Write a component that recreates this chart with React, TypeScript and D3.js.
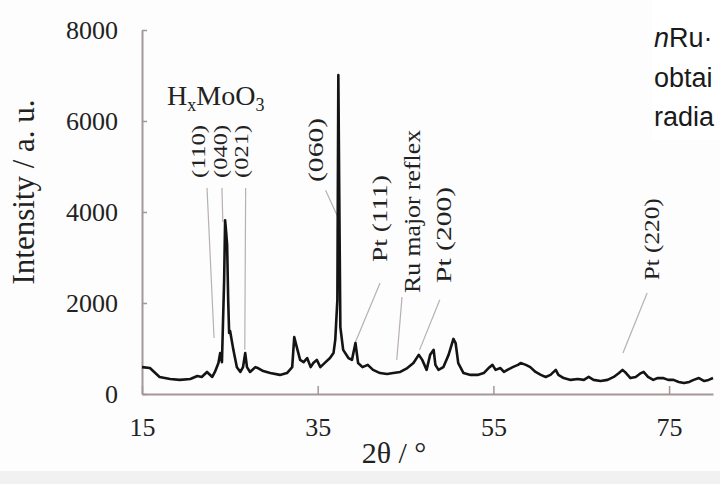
import React, { useRef, useEffect } from "react";
import * as d3 from "d3";

// XRD pattern
const twoTheta = [
  15.0, 15.9, 17.0, 18.2, 19.3, 20.5, 21.3, 21.8, 22.4, 23.0,
  23.3, 23.7, 23.9, 24.1, 24.35, 24.46, 24.58, 24.69, 24.81, 24.92,
  25.03, 25.4, 25.8, 26.2, 26.5, 26.75, 26.95, 27.3, 27.9, 28.2,
  28.8, 29.6, 30.7, 31.5, 32.1, 32.33, 32.7, 33.0, 33.4, 33.8,
  34.2, 34.5, 34.9, 35.3, 35.9, 36.4, 36.8, 37.0, 37.24, 37.35,
  37.46, 37.58, 37.9, 38.5, 38.9, 39.3, 39.6, 40.1, 40.7, 41.3,
  42.1, 42.9, 43.6, 44.4, 45.2, 45.9, 46.5, 46.9, 47.4, 47.8,
  48.2, 48.4, 48.75, 49.3, 49.9, 50.45, 50.7, 51.0, 51.6, 52.4,
  53.2, 53.9, 54.45, 54.9, 55.25, 55.8, 56.2, 56.6, 57.2, 57.8,
  58.1, 58.7, 59.2, 59.8, 60.4, 60.95, 61.5, 62.1, 62.4, 63.0,
  63.8, 64.6, 65.3, 65.85, 66.4, 67.2, 68.0, 68.7, 69.3, 69.7,
  70.1, 70.6, 71.2, 71.8, 72.1, 72.6, 73.2, 73.7, 74.3, 74.9,
  75.5, 76.1, 76.7, 77.3, 77.8, 78.4, 79.0, 79.5, 80.0,
];
const intensity = [
  590, 570, 375, 330, 310, 330, 395, 375, 485, 375,
  485, 680, 900, 700, 2500, 3820, 3560, 3280, 2070, 1340,
  1385, 970, 590, 485, 590, 900, 590, 485, 590, 570,
  505, 460, 420, 460, 590, 1250, 970, 750, 700, 790,
  590, 680, 750, 590, 700, 790, 900, 1190, 2070, 7010,
  4260, 1470, 970, 790, 750, 1120, 680, 590, 640, 530,
  460, 440, 460, 485, 570, 680, 860, 750, 530, 860,
  970, 640, 530, 590, 860, 1210, 1120, 680, 460, 420,
  420, 460, 570, 640, 530, 570, 485, 530, 590, 640,
  680, 640, 590, 485, 420, 375, 420, 530, 420, 350,
  310, 330, 310, 375, 310, 285, 310, 375, 460, 530,
  460, 350, 375, 460, 485, 375, 310, 350, 350, 310,
  310, 265, 240, 265, 310, 350, 285, 310, 350,
];

const xTicks = [15, 35, 55, 75];
const yTicks = [0, 2000, 4000, 6000, 8000];

// peak annotations (data units: 2θ, intensity)
const peakLabels = ["(110)", "(040)", "(021)", "(060)", "Pt (111)", "Ru major reflex", "Pt (200)", "Pt (220)"];
const labelTheta = [21.5, 24.0, 26.4, 34.8, 42.1, 45.7, 49.3, 73.05];
const labelBase = [4750, 4750, 4750, 4660, 2900, 2220, 2440, 2500];
const leaderFrom = [[22.4, 4530], [24.1, 4530], [26.8, 4530], [35.9, 4480], [42.1, 2440], [44.6, 2130], [48.9, 2070], [72.5, 2220]];
const leaderTo = [[23.2, 1230], [24.2, 3780], [26.7, 970], [37.2, 3930], [39.25, 1120], [44.0, 750], [46.6, 970], [69.75, 900]];
const phaseLabel = { theta: 17.85, value: 6350 };

// caption cut off by the right edge of the scan
const captionLines = ["obtai", "radia"];

function XrdChart() {
  const svgRef = useRef<SVGSVGElement>(null);

  useEffect(() => {
    const svg = d3.select(svgRef.current);
    svg.selectAll("*").remove();
    const W = 720, H = 484;
    const serif = "'Liberation Serif', 'Times New Roman', serif";
    const axisColor = "#a59798";
    const ink = "#222";

    const x = d3.scaleLinear().domain([15, 80]).range([142, 713]);
    const y = d3.scaleLinear().domain([0, 8000]).range([394, 30]);

    svg.append("rect").attr("width", W).attr("height", H).attr("fill", "#fdfdfd");
    svg.append("rect").attr("y", 471).attr("width", W).attr("height", 13).attr("fill", "#f1f1f1");

    // x axis, ticks pointing in
    const gx = svg.append("g")
      .attr("transform", `translate(0,${y(0)})`)
      .call(d3.axisBottom(x).tickValues(xTicks).tickSizeInner(-8).tickSizeOuter(0).tickPadding(24).tickFormat(d3.format("d")))
      .attr("font-family", serif).attr("font-size", 26);
    gx.select(".domain").attr("stroke", axisColor).attr("stroke-width", 2);
    gx.selectAll(".tick line").attr("stroke", axisColor).attr("stroke-width", 1.5);
    gx.selectAll(".tick text").attr("fill", ink);

    const gy = svg.append("g")
      .attr("transform", `translate(${x(15)},0)`)
      .call(d3.axisLeft(y).tickValues(yTicks).tickSizeInner(-5).tickSizeOuter(0).tickPadding(24).tickFormat(d3.format("d")))
      .attr("font-family", serif).attr("font-size", 26);
    gy.select(".domain").attr("stroke", axisColor).attr("stroke-width", 2);
    gy.selectAll(".tick line").attr("stroke", axisColor).attr("stroke-width", 1.5);
    gy.selectAll(".tick text").attr("fill", ink);

    // axis titles
    svg.append("text")
      .attr("transform", "translate(23,192) rotate(-90)")
      .attr("text-anchor", "middle").attr("dy", "0.35em")
      .attr("font-family", serif).attr("font-size", 31)
      .attr("textLength", 185).attr("lengthAdjust", "spacingAndGlyphs")
      .attr("fill", ink)
      .text("Intensity / a. u.");
    svg.append("text")
      .attr("x", 394).attr("y", 463)
      .attr("text-anchor", "middle")
      .attr("font-family", serif).attr("font-size", 30)
      .attr("fill", ink)
      .text("2θ / °");

    // leader lines
    peakLabels.forEach((_, i) => {
      svg.append("line")
        .attr("x1", x(leaderFrom[i][0])).attr("y1", y(leaderFrom[i][1]))
        .attr("x2", x(leaderTo[i][0])).attr("y2", y(leaderTo[i][1]))
        .attr("stroke", "#b9b0b0").attr("stroke-width", 1.2);
    });

    // pattern
    const idx = d3.range(twoTheta.length);
    const line = d3.line<number>()
      .x(i => x(twoTheta[i]))
      .y(i => y(intensity[i]));
    svg.append("path")
      .attr("d", line(idx))
      .attr("fill", "none")
      .attr("stroke", "#141414")
      .attr("stroke-width", 2.6)
      .attr("stroke-linejoin", "round");

    // rotated peak labels: [font size, length]
    const labelSize = [[18, 53], [18, 53], [18, 53], [21, 64], [21, 87], [23, 163], [21, 96], [21, 82]];
    peakLabels.forEach((t, i) => {
      svg.append("text")
        .attr("transform", `translate(${x(labelTheta[i])},${y(labelBase[i])}) rotate(-90)`)
        .attr("dy", "0.35em")
        .attr("font-family", serif)
        .attr("font-size", labelSize[i][0])
        .attr("textLength", labelSize[i][1])
        .attr("lengthAdjust", "spacingAndGlyphs")
        .attr("fill", ink)
        .text(t);
    });

    // HxMoO3
    const ph = svg.append("text")
      .attr("x", x(phaseLabel.theta)).attr("y", y(phaseLabel.value))
      .attr("font-family", serif).attr("font-size", 28).attr("fill", ink);
    ph.append("tspan").text("H");
    ph.append("tspan").attr("font-size", 18).attr("dy", 6).text("x");
    ph.append("tspan").attr("dy", -6).text("MoO");
    ph.append("tspan").attr("font-size", 18).attr("dy", 6).text("3");

    // caption panel at the right
    svg.append("rect").attr("x", 652).attr("width", W - 652).attr("height", 140).attr("fill", "#fff");
    const sans = "'Liberation Sans', Arial, sans-serif";
    const l1 = svg.append("text").attr("x", 654).attr("y", 47)
      .attr("font-family", sans).attr("font-size", 27).attr("fill", "#1a1a1a");
    l1.append("tspan").attr("font-style", "italic").text("n");
    l1.append("tspan").text("Ru·");
    captionLines.forEach((t, i) => {
      svg.append("text").attr("x", 654).attr("y", 87 + i * 39)
        .attr("font-family", sans).attr("font-size", 27).attr("fill", "#1a1a1a")
        .text(t);
    });
  }, []);

  return <svg ref={svgRef} width={720} height={484} style={{ display: "block" }} />;
}

export default function App() {
  return (
    <div style={{ position: "absolute", left: 0, top: 0 }}>
      <XrdChart />
    </div>
  );
}
